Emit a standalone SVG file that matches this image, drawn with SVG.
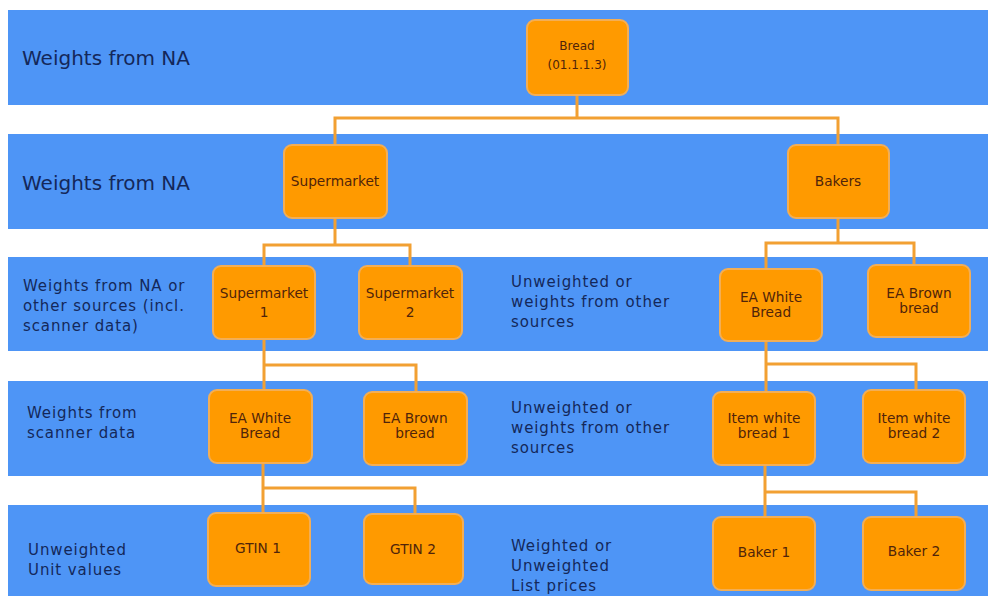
<svg xmlns="http://www.w3.org/2000/svg" width="988" height="596" viewBox="0 0 988 596">
<style>
.band{fill:#4E95F6}
.node rect{fill:#FF9A00;stroke:#F3AE55;stroke-width:2}
.node text{font-family:"DejaVu Sans",Verdana,sans-serif;font-size:13.7px;fill:#50240A;text-anchor:middle}
.lbl{font-family:"DejaVu Sans",Verdana,sans-serif;fill:#14285A}
.big{font-size:20px}
.small{font-size:15px;letter-spacing:0.9px}
.conn path{fill:none;stroke:#F2A032;stroke-width:3}
</style>
<rect width="988" height="596" fill="#FFFFFF"/>
<g id="bands">
<rect class="band" x="8" y="10" width="980" height="95"/>
<rect class="band" x="8" y="134" width="980" height="95"/>
<rect class="band" x="8" y="257" width="980" height="94"/>
<rect class="band" x="8" y="381" width="980" height="95"/>
<rect class="band" x="8" y="505" width="980" height="91"/>
</g>
<g id="labels">
<text class="lbl big" x="22" y="65">Weights from NA</text>
<text class="lbl big" x="22" y="190">Weights from NA</text>
<text class="lbl small" x="23" y="291"><tspan x="23">Weights from NA or</tspan><tspan x="23" dy="20">other sources (incl.</tspan><tspan x="23" dy="20">scanner data)</tspan></text>
<text class="lbl small" x="27" y="418"><tspan x="27">Weights from</tspan><tspan x="27" dy="20">scanner data</tspan></text>
<text class="lbl small" x="28" y="555"><tspan x="28">Unweighted</tspan><tspan x="28" dy="20">Unit values</tspan></text>
<text class="lbl small" x="511" y="287"><tspan x="511">Unweighted or</tspan><tspan x="511" dy="20">weights from other</tspan><tspan x="511" dy="20">sources</tspan></text>
<text class="lbl small" x="511" y="413"><tspan x="511">Unweighted or</tspan><tspan x="511" dy="20">weights from other</tspan><tspan x="511" dy="20">sources</tspan></text>
<text class="lbl small" x="511" y="551"><tspan x="511">Weighted or</tspan><tspan x="511" dy="20">Unweighted</tspan><tspan x="511" dy="20">List prices</tspan></text>
</g>
<g id="connectors" class="conn">
<path d="M577 95 V118 M335 145 V118 H838 V145"/>
<path d="M335 218 V245 M264 266 V245 H410 V266"/>
<path d="M838 218 V243 M766 269 V243 H914 V265"/>
<path d="M264 339 V365 H416 V392 M264 365 V390"/>
<path d="M766 341 V364 H916 V390 M766 364 V392"/>
<path d="M263 463 V488 H415 V514 M263 488 V513"/>
<path d="M765 465 V492 H916 V517 M765 492 V517"/>
</g>
<g id="n-bread" class="node"><rect x="527" y="20" width="101" height="75" rx="8"/><text x="577" y="50" style="font-size:12px"><tspan x="577">Bread</tspan><tspan x="577" dy="19">(01.1.1.3)</tspan></text></g>
<g id="n-supermarket" class="node"><rect x="284" y="145" width="103" height="73" rx="8"/><text x="335" y="186">Supermarket</text></g>
<g id="n-bakers" class="node"><rect x="788" y="145" width="101" height="73" rx="8"/><text x="838" y="186">Bakers</text></g>
<g id="n-super1" class="node"><rect x="213" y="266" width="102" height="73" rx="8"/><text x="264" y="298"><tspan x="264">Supermarket</tspan><tspan x="264" dy="19">1</tspan></text></g>
<g id="n-super2" class="node"><rect x="359" y="266" width="103" height="73" rx="8"/><text x="410" y="298"><tspan x="410">Supermarket</tspan><tspan x="410" dy="19">2</tspan></text></g>
<g id="n-ea-white-r" class="node"><rect x="720" y="269" width="102" height="72" rx="8"/><text x="771" y="302"><tspan x="771">EA White</tspan><tspan x="771" dy="15">Bread</tspan></text></g>
<g id="n-ea-brown-r" class="node"><rect x="868" y="265" width="102" height="72" rx="8"/><text x="919" y="298"><tspan x="919">EA Brown</tspan><tspan x="919" dy="15">bread</tspan></text></g>
<g id="n-ea-white-l" class="node"><rect x="209" y="390" width="103" height="73" rx="8"/><text x="260" y="423"><tspan x="260">EA White</tspan><tspan x="260" dy="15">Bread</tspan></text></g>
<g id="n-ea-brown-l" class="node"><rect x="364" y="392" width="103" height="73" rx="8"/><text x="415" y="423"><tspan x="415">EA Brown</tspan><tspan x="415" dy="15">bread</tspan></text></g>
<g id="n-item1" class="node"><rect x="713" y="392" width="102" height="73" rx="8"/><text x="764" y="423"><tspan x="764">Item white</tspan><tspan x="764" dy="15">bread 1</tspan></text></g>
<g id="n-item2" class="node"><rect x="863" y="390" width="102" height="73" rx="8"/><text x="914" y="423"><tspan x="914">Item white</tspan><tspan x="914" dy="15">bread 2</tspan></text></g>
<g id="n-gtin1" class="node"><rect x="208" y="513" width="102" height="73" rx="8"/><text x="258" y="553">GTIN 1</text></g>
<g id="n-gtin2" class="node"><rect x="364" y="514" width="99" height="70" rx="8"/><text x="413" y="554">GTIN 2</text></g>
<g id="n-baker1" class="node"><rect x="713" y="517" width="102" height="73" rx="8"/><text x="764" y="557">Baker 1</text></g>
<g id="n-baker2" class="node"><rect x="863" y="517" width="102" height="73" rx="8"/><text x="914" y="556">Baker 2</text></g>
</svg>
